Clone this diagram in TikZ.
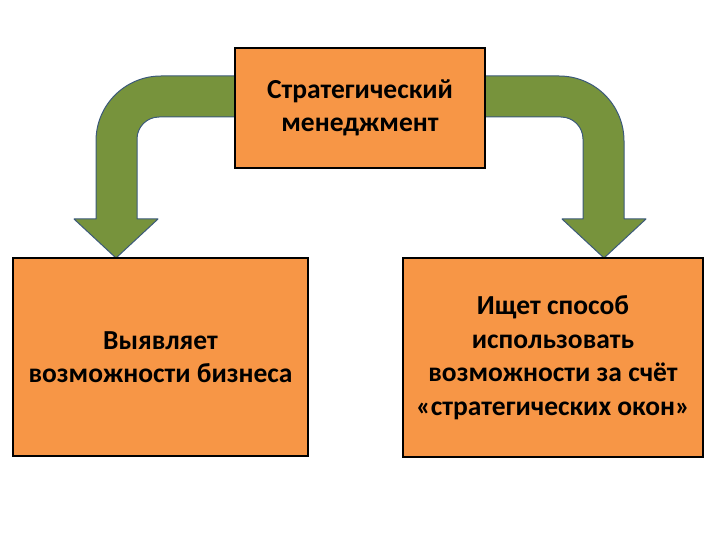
\documentclass[tikz,border=0pt]{standalone}
\usepackage{fontspec}
\setmainfont{Carlito}
\definecolor{boxfill}{HTML}{F79646}
\definecolor{arrowfill}{HTML}{77933C}
\definecolor{arrowline}{HTML}{3C5A7A}
\begin{document}
\begin{tikzpicture}[
              x = 1pt, y = -1pt,
              box/.style = {draw=black, line width=1.6pt, fill=boxfill,
                            align=center, inner sep=0pt,
                            font=\fontsize{27.5}{33.5}\selectfont\bfseries},
              bend arrow/.style = {draw=arrowline, line width=1pt, fill=arrowfill, line join=round}
            ]
            \useasboundingbox (0,0) rectangle (720,540);
            % turning arrows
            \filldraw[bend arrow] (236,76) -- (161,76)
              .. controls (125.1,76) and (96,105.1) .. (96,141)
              -- (96,219) -- (74,219) -- (116,258) -- (158,219) -- (137,219) -- (137,139)
              .. controls (137,126.85) and (146.85,117) .. (159,117)
              -- (236,117) -- cycle;
            \filldraw[bend arrow] (484,76) -- (559,76)
              .. controls (594.9,76) and (624,105.1) .. (624,141)
              -- (624,219) -- (646,219) -- (604,258) -- (562,219) -- (583,219) -- (583,139)
              .. controls (583,126.85) and (573.15,117) .. (561,117)
              -- (484,117) -- cycle;
            % boxes
            \node[box, minimum width=250pt, minimum height=120pt] (strat) at (360,108)
              {Стратегический\\менеджмент};
            \node[box, minimum width=295pt, minimum height=198pt] (find) at (160.5,357)
              {Выявляет\\возможности бизнеса};
            \node[box, minimum width=300pt, minimum height=199pt] (use) at (553,357.5)
              {Ищет способ\\использовать\\возможности за счёт\\«стратегических окон»};
          \end{tikzpicture}
\end{document}
